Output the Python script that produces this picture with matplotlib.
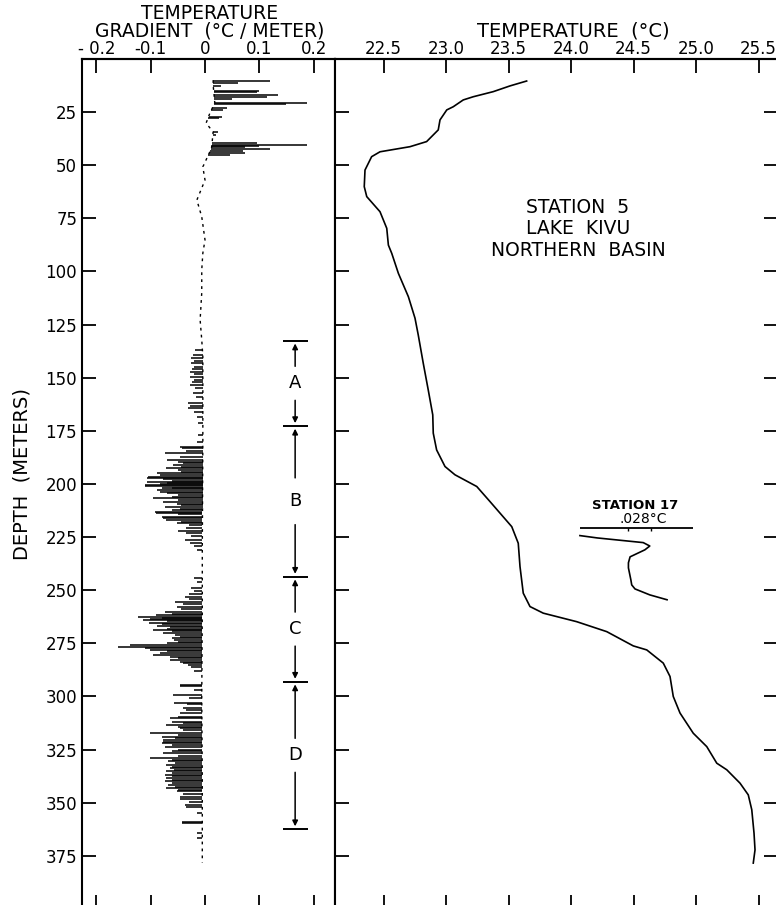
import numpy as np
import matplotlib
matplotlib.use('Agg')
import matplotlib.pyplot as plt

# Station 5, Lake Kivu - temperature and temperature gradient vs depth

# depth ticks (meters) and x tick labels
depth_ticks = [25, 50, 75, 100, 125, 150, 175, 200, 225, 250, 275, 300, 325, 350, 375]
grad_ticks = [-0.2, -0.1, 0, 0.1, 0.2]
grad_labels = ['- 0.2', '-0.1', '0', '0.1', '0.2']
temp_ticks = [22.5, 23.0, 23.5, 24.0, 24.5, 25.0, 25.5]
temp_labels = ['22.5', '23.0', '23.5', '24.0', '24.5', '25.0', '25.5']

# slowly varying part of the gradient trace
base_depth = [10, 12.3, 20.7, 25.5, 30.2, 34.4, 42, 50.8, 57, 66.4, 74.3, 85.2, 91.4,
              99.3, 110, 122.8, 132.2, 140, 180, 230, 260, 300, 340, 378.3]
base_grad = [0.015, 0.015, 0.018, 0.009, 0.002, 0.015, 0.012, -0.004, 0.0, -0.015, -0.006,
             0.0, -0.004, -0.006, -0.006, -0.009, -0.006, -0.004, -0.004, -0.005, -0.005,
             -0.006, -0.005, -0.005]

# spikes of the gradient trace (depth, gradient)
spike_depth = [
    10.3, 11.5, 12.7, 14.9, 15.7, 17.0, 17.8, 19.0, 20.6, 21.2, 23.2, 24.0, 27.2, 27.8,
    34.2, 35.8, 39.4, 40.5, 41.0, 41.6, 42.5, 43.2, 44.1, 45.2,
    136.9, 139.3, 140.9, 142.0, 143.2, 145.1, 146.0, 147.1, 148.3, 149.5, 151.0, 152.2,
    153.4, 155.0, 157.3, 159.0, 162.0, 163.2, 164.4, 166.0, 168.3, 171.4, 176.9, 180.1,
    182.4, 183.2, 184.3, 185.6, 187.1, 188.7, 189.5, 190.2, 191.0, 191.8, 192.6, 193.4,
    194.2, 195.0, 195.8, 196.5, 197.3, 197.8, 198.4, 198.9, 199.5, 200.0, 200.4, 201.2,
    201.7, 202.0, 202.8, 203.6, 204.4, 205.2, 206.0, 206.7, 207.5, 208.3, 209.2, 210.0,
    210.7, 211.6, 212.3, 213.0, 213.5, 214.3, 215.4, 216.1, 216.9, 217.7, 218.5, 219.5,
    220.5, 222.0, 223.2, 224.5, 226.3, 227.6, 229.0, 231.0,
    244.3, 246.0, 249.0, 250.6, 252.0, 253.0, 254.2, 255.4, 256.5, 257.7, 258.9, 260.1,
    261.1, 261.8, 262.4, 263.0, 263.6, 264.0, 264.6, 265.2, 265.9, 266.8, 267.5, 268.1,
    268.7, 269.4, 270.2, 271.0, 271.8, 272.6, 273.4, 274.2, 275.0, 275.7, 276.5, 277.2,
    278.1, 278.8, 279.6, 280.4, 281.2, 282.0, 282.8, 283.6, 284.4, 285.1, 286.0, 288.0,
    294.5, 295.3, 297.0, 299.2, 300.5, 302.9, 303.6, 305.5, 306.5, 307.9, 309.5, 310.2,
    311.8, 312.6, 313.4, 314.2, 314.9, 316.0, 317.3, 318.1, 318.9, 319.6, 320.4, 321.2,
    322.0, 323.0, 323.9, 325.0, 325.8, 326.7, 327.8, 329.0, 329.8, 330.6, 331.4, 332.2,
    333.0, 333.7, 334.5, 335.3, 336.1, 336.9, 337.6, 338.4, 339.2, 340.0, 340.8, 341.6,
    342.4, 343.1, 343.9, 344.7, 346.0, 347.4, 348.2, 349.5, 351.0, 352.0, 355.0, 359.3,
    359.6, 364.3, 366.7]
spike_grad = [
    0.12, 0.06, 0.03, 0.10, 0.095, 0.134, 0.114, 0.05, 0.188, 0.15, 0.04, 0.033, 0.031, 0.025,
    0.024, 0.02, 0.095, 0.188, 0.10, 0.074, 0.12, 0.07, 0.074, 0.046,
    -0.018, -0.023, -0.025, -0.02, -0.025, -0.02, -0.024, -0.028, -0.02, -0.028, -0.02, -0.024,
    -0.028, -0.018, -0.022, -0.016, -0.031, -0.028, -0.031, -0.02, -0.015, -0.012, -0.012, -0.015,
    -0.046, -0.043, -0.035, -0.074, -0.046, -0.07, -0.05, -0.04, -0.059, -0.045, -0.071, -0.05,
    -0.045, -0.088, -0.083, -0.105, -0.107, -0.077, -0.06, -0.107, -0.07, -0.083, -0.11, -0.11,
    -0.06, -0.08, -0.088, -0.083, -0.07, -0.05, -0.061, -0.095, -0.05, -0.077, -0.052, -0.045,
    -0.074, -0.046, -0.06, -0.092, -0.09, -0.05, -0.08, -0.077, -0.071, -0.045, -0.052, -0.03,
    -0.035, -0.049, -0.035, -0.025, -0.037, -0.028, -0.02, -0.015,
    -0.021, -0.015, -0.025, -0.02, -0.03, -0.037, -0.03, -0.055, -0.04, -0.052, -0.045, -0.074,
    -0.061, -0.09, -0.123, -0.08, -0.101, -0.114, -0.07, -0.104, -0.08, -0.089, -0.065, -0.07,
    -0.096, -0.06, -0.077, -0.055, -0.046, -0.06, -0.058, -0.05, -0.07, -0.138, -0.16, -0.11,
    -0.101, -0.07, -0.083, -0.096, -0.064, -0.05, -0.064, -0.046, -0.04, -0.031, -0.025, -0.02,
    -0.046, -0.046, -0.02, -0.059, -0.03, -0.058, -0.033, -0.04, -0.035, -0.046, -0.05, -0.064,
    -0.061, -0.04, -0.071, -0.05, -0.046, -0.04, -0.101, -0.05, -0.08, -0.055, -0.077, -0.077,
    -0.08, -0.06, -0.074, -0.05, -0.06, -0.077, -0.05, -0.101, -0.06, -0.068, -0.055, -0.071,
    -0.06, -0.064, -0.058, -0.071, -0.06, -0.074, -0.06, -0.071, -0.06, -0.074, -0.06, -0.068,
    -0.055, -0.071, -0.05, -0.052, -0.04, -0.046, -0.046, -0.03, -0.037, -0.035, -0.015, -0.043,
    -0.043, -0.015, -0.015]

# interval markers A-D
interval_bounds = [132.6, 172.7, 243.6, 293.0, 362.4]
interval_names = ['A', 'B', 'C', 'D']
interval_gap = [8, 11, 8, 8]

# station 5 temperature profile
temp_depth = [10.4, 12.7, 15.4, 17.8, 19.3, 22.5, 24.0, 28.7, 33.4, 38.9, 41.3, 43.7, 46.0,
              52.3, 60.1, 64.8, 71.9, 79.7, 87.6, 91.5, 100.9, 111.9, 122.0, 129.9, 143.2,
              155.8, 167.5, 176.1, 184.0, 191.8, 195.7, 201.2, 208.3, 220.1, 227.9, 238.9,
              251.4, 257.7, 260.8, 264.8, 269.5, 276.2, 278.1, 284.3, 290.6, 300.0, 307.8,
              317.3, 323.6, 331.4, 334.5, 340.8, 346.3, 353.3, 364.3, 372.2, 378.4]
temp_val = [23.645, 23.512, 23.378, 23.218, 23.138, 23.058, 23.006, 22.952, 22.938, 22.845,
            22.712, 22.472, 22.405, 22.352, 22.346, 22.366, 22.472, 22.526, 22.539, 22.566,
            22.619, 22.699, 22.752, 22.778, 22.818, 22.858, 22.894, 22.898, 22.925, 22.992,
            23.072, 23.246, 23.352, 23.526, 23.578, 23.592, 23.618, 23.672, 23.778, 24.045,
            24.286, 24.498, 24.606, 24.738, 24.792, 24.818, 24.872, 24.978, 25.086, 25.166,
            25.246, 25.352, 25.418, 25.446, 25.464, 25.472, 25.458]

# station 17 profile (deg C offset from its own origin)
st17_depth = [224.3, 225.4, 227.6, 229.2, 231.0, 234.3, 237.1, 239.5, 245.2, 247.5, 249.4, 252.2, 254.5]
st17_temp = [0.0, 0.021, 0.077, 0.085, 0.079, 0.061, 0.059, 0.059, 0.062, 0.063, 0.067, 0.085, 0.106]
st17_scale_depth = 220.7
st17_scale_ends = [0.0, 0.138]
st17_scale_ticks = [0.0585, 0.0865]

plt.rcParams['font.family'] = 'DejaVu Sans'
fig = plt.figure(figsize=(7.76, 9.05), dpi=100)

ax1 = fig.add_axes([0.1057, -0.0044, 0.326, 0.9393])
ax2 = fig.add_axes([0.4317, -0.0044, 0.5709, 0.9393])

tick_kw = dict(direction='in', length=10, width=1.3)

# ---- left panel: gradient ----
ax1.plot(base_grad, base_depth, color='black', lw=1.0, ls=(0, (2, 3)))
roots = np.interp(spike_depth, base_depth, base_grad)
ax1.hlines(spike_depth, roots, spike_grad, color='black', lw=1.1)

xm = 0.166
for i, name in enumerate(interval_names):
    top, bot = interval_bounds[i], interval_bounds[i + 1]
    mid = (top + bot) / 2
    g = interval_gap[i]
    ax1.text(xm, mid, name, ha='center', va='center', fontsize=13)
    ax1.annotate('', xy=(xm, top), xytext=(xm, mid - g),
                 arrowprops=dict(arrowstyle='-|>', lw=1.1, color='black',
                                 mutation_scale=8, shrinkA=0, shrinkB=2))
    ax1.annotate('', xy=(xm, bot), xytext=(xm, mid + g),
                 arrowprops=dict(arrowstyle='-|>', lw=1.1, color='black',
                                 mutation_scale=8, shrinkA=0, shrinkB=2))
ax1.hlines(interval_bounds, xm - 0.022, xm + 0.024, color='black', lw=1.4)

ax1.set_xlim(-0.2265, 0.2394)
ax1.set_ylim(400, 0)
# bottom ticks without labels; labelled ticks come from a top secondary axis
ax1.set_xticks(grad_ticks, labels=[''] * len(grad_ticks))
ax1.set_yticks(depth_ticks)
ax1.tick_params(axis='both', top=False, bottom=True, left=True, right=False,
                labelsize=12, **tick_kw)
top1 = ax1.secondary_xaxis('top')
top1.set_xticks(grad_ticks, labels=grad_labels)
top1.tick_params(axis='x', labelsize=12, pad=1, **tick_kw)

# ---- right panel: temperature ----
ax2.plot(temp_val, temp_depth, color='black', lw=1.2)
ax2.set_xlim(22.112, 25.656)
ax2.set_ylim(400, 0)
ax2.set_xticks(temp_ticks, labels=[''] * len(temp_ticks))
ax2.set_yticks(depth_ticks, labels=[''] * len(depth_ticks))
ax2.tick_params(axis='both', top=False, bottom=True, left=True, right=True, **tick_kw)
top2 = ax2.secondary_xaxis('top')
top2.set_xticks(temp_ticks, labels=temp_labels)
top2.tick_params(axis='x', labelsize=12, pad=1, **tick_kw)

ax2.text(24.056, 80, 'STATION  5\nLAKE  KIVU\nNORTHERN  BASIN',
         ha='center', va='center', fontsize=13.5, linespacing=1.15)

# station 17 inset drawn on its own temperature scale
ax3 = ax2.twiny()
ax3.set_xlim(-0.298, 0.241)
ax3.axis('off')
ax3.plot(st17_temp, st17_depth, color='black', lw=1.2)
ax3.hlines(st17_scale_depth, st17_scale_ends[0], st17_scale_ends[1], color='black', lw=1.3)
ax3.vlines(st17_scale_ticks, st17_scale_depth, st17_scale_depth + 1.5, color='black', lw=1.0)
ax3.text(np.mean(st17_scale_ends) - 0.002, st17_scale_depth - 7.5, 'STATION 17',
         ha='center', va='bottom', fontsize=9.5, fontweight='bold')
ax3.text(np.mean(st17_scale_ticks) + 0.005, st17_scale_depth - 0.8, '.028°C',
         ha='center', va='bottom', fontsize=10)

# axis titles placed in figure pixels of the reference
W, H = 776, 905
fig.text(210 / W, 1 - 22.5 / H, 'TEMPERATURE\nGRADIENT  (°C / METER)', ha='center',
         va='center', fontsize=13.5, linespacing=0.92)
fig.text(573 / W, 1 - 31 / H, 'TEMPERATURE  (°C)', ha='center', va='center', fontsize=14)
fig.text(22 / W, 1 - 474 / H, 'DEPTH  (METERS)', ha='center', va='center', fontsize=14,
         rotation=90)

for ax in (ax1, ax2, top1, top2):
    for s in ax.spines.values():
        s.set_linewidth(1.5)

fig.savefig('out.png', dpi=100)
